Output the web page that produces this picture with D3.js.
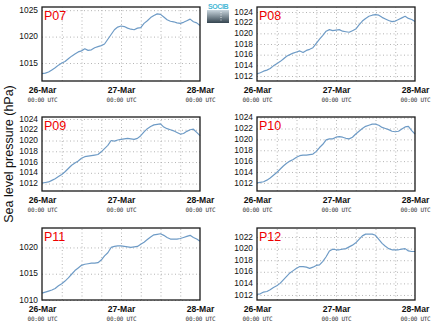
<!DOCTYPE html>
<html><head><meta charset="utf-8">
<script src="https://cdn.jsdelivr.net/npm/d3@7"></script>
<style>
body{margin:0;background:#fff}
svg{display:block;font-family:"Liberation Sans",Arial,sans-serif}
</style>
</head><body>
<svg id="chart" width="434" height="327"></svg>
<script>
// Hourly sea level pressure (hPa), 26-Mar 00:00 UTC to 28-Mar 00:00 UTC
const hours = d3.range(0, 49);
const stations = ["P07", "P08", "P09", "P10", "P11", "P12"];

const p07 = [1013.0,1013.1,1013.3,1013.7,1014.1,1014.6,1015.0,1015.3,1015.8,1016.3,1016.7,1017.1,1017.3,1017.7,1017.4,1017.5,1017.9,1018.1,1018.3,1018.6,1019.5,1020.4,1021.3,1021.8,1022.0,1021.9,1021.6,1021.4,1021.3,1021.6,1021.7,1022.5,1023.0,1023.6,1024.0,1024.3,1024.2,1023.7,1023.2,1022.9,1022.8,1022.6,1022.5,1022.7,1023.0,1023.3,1022.8,1022.6,1022.1];
const p08 = [1012.4,1012.6,1012.9,1013.1,1013.4,1013.9,1014.3,1014.7,1015.2,1015.7,1016.0,1016.3,1016.5,1016.7,1016.4,1016.8,1017.0,1017.3,1018.1,1018.9,1019.6,1020.4,1020.7,1020.5,1020.6,1020.7,1020.4,1020.3,1020.2,1020.5,1020.8,1021.6,1022.3,1022.8,1023.2,1023.4,1023.5,1023.4,1023.0,1022.7,1022.4,1022.2,1022.3,1022.6,1022.9,1023.2,1022.8,1022.6,1022.2];
const p09 = [1012.1,1012.2,1012.3,1012.6,1012.9,1013.3,1013.7,1014.2,1014.8,1015.4,1015.8,1016.2,1016.7,1017.0,1017.1,1017.2,1017.3,1017.4,1017.9,1018.5,1019.1,1020.0,1019.9,1020.1,1020.2,1020.3,1020.4,1020.3,1020.2,1020.4,1020.9,1021.6,1022.2,1022.6,1022.9,1023.0,1023.1,1022.5,1022.2,1022.0,1021.8,1021.5,1021.2,1021.3,1021.7,1022.0,1022.1,1021.5,1020.9];
const p10 = [1012.0,1012.1,1012.2,1012.5,1012.9,1013.4,1013.9,1014.5,1015.1,1015.6,1016.0,1016.3,1016.7,1017.0,1017.1,1017.1,1017.2,1017.3,1017.8,1018.5,1019.1,1019.9,1020.1,1020.1,1020.4,1020.5,1020.4,1020.2,1020.1,1020.4,1021.0,1021.5,1022.0,1022.4,1022.6,1022.8,1022.8,1022.6,1022.2,1022.0,1021.8,1021.5,1021.4,1021.5,1021.9,1022.3,1022.4,1021.6,1021.0];
const p11 = [1011.3,1011.5,1011.7,1011.9,1012.2,1012.7,1013.1,1013.6,1014.2,1014.9,1015.6,1016.1,1016.6,1016.8,1016.9,1017.0,1017.0,1017.1,1017.6,1018.4,1019.0,1020.0,1020.2,1020.3,1020.3,1020.2,1020.1,1020.0,1020.1,1020.2,1020.6,1021.0,1021.5,1022.0,1022.4,1022.5,1022.6,1022.3,1021.9,1021.6,1021.6,1021.6,1021.7,1021.9,1022.1,1022.3,1021.9,1021.6,1021.2];
const p12 = [1012.1,1012.2,1012.5,1012.6,1012.9,1013.3,1013.6,1014.0,1014.6,1015.2,1015.8,1016.2,1016.6,1016.9,1016.9,1016.8,1016.6,1016.8,1017.1,1017.2,1017.8,1018.6,1019.6,1019.9,1019.8,1019.8,1019.9,1020.0,1020.3,1020.6,1021.0,1021.6,1022.2,1022.5,1022.5,1022.5,1022.3,1021.6,1020.9,1020.4,1020.0,1019.8,1019.8,1019.8,1019.9,1020.0,1019.6,1019.5,1019.5];

const dayLabels = ["26-Mar", "27-Mar", "28-Mar"];
const dayHours = [0, 24, 48];
const timeLabel = "00:00 UTC";
const gridHours = [6, 12, 18, 24, 30, 36, 42];

const ticksFive = [1015, 1020, 1025];
const ticksTwo = [1012, 1014, 1016, 1018, 1020, 1022, 1024];
const ticksP11 = [1010, 1015, 1020];
const ticksP12 = [1012, 1014, 1016, 1018, 1020, 1022];

const yLabel = "Sea level pressure (hPa)";

const series = [p07, p08, p09, p10, p11, p12];
const yTicks = [ticksFive, ticksTwo, ticksTwo, ticksTwo, ticksP11, ticksP12];
const yDomains = [[1011.6, 1025.6], [1011.06, 1024.94], [1010.62, 1024.37],
                  [1010.5, 1024.12], [1010.0, 1023.7], [1011.13, 1023.56]];

// panel frames: two columns, three rows
const colX = [42, 257];
const rows = [{top: 7, h: 74}, {top: 117, h: 74}, {top: 228, h: 72}];
const W = 158;

const svg = d3.select("#chart");

stations.forEach((name, i) => {
  const col = i % 2, row = Math.floor(i / 2);
  const left = colX[col], top = rows[row].top, H = rows[row].h;
  const x = d3.scaleLinear().domain([0, 48]).range([0, W]);
  const y = d3.scaleLinear().domain(yDomains[i]).range([H, 0]);

  const g = svg.append("g").attr("transform", `translate(${left},${top})`);

  // dotted grid
  g.append("g").attr("class", "hgrid")
    .call(d3.axisLeft(y).tickValues(yTicks[i]).tickSize(-W).tickFormat(""))
    .call(s => s.select(".domain").remove())
    .call(s => s.selectAll("line").attr("stroke", "#b4b4b4").attr("stroke-dasharray", "1,2.5"));
  g.append("g").attr("class", "vgrid").attr("transform", `translate(0,${H})`)
    .call(d3.axisBottom(x).tickValues(gridHours).tickSize(-H).tickFormat(""))
    .call(s => s.select(".domain").remove())
    .call(s => s.selectAll("line").attr("stroke", "#b4b4b4").attr("stroke-dasharray", "1,2.5"));

  // y tick labels
  g.append("g").attr("class", "yaxis")
    .call(d3.axisLeft(y).tickValues(yTicks[i]).tickSize(0).tickPadding(4).tickFormat(d3.format("d")))
    .call(s => s.select(".domain").remove())
    .call(s => s.selectAll("text").attr("font-size", 8.4).attr("fill", "#111").attr("dy", "0.26em")
      .attr("font-family", "'Liberation Sans',Arial,sans-serif"));

  // x tick labels (date + time)
  const xa = g.append("g").attr("class", "xaxis").attr("transform", `translate(0,${H})`)
    .call(d3.axisBottom(x).tickValues(dayHours).tickSize(0).tickPadding(6)
      .tickFormat((d, k) => dayLabels[k]))
    .call(s => s.select(".domain").remove());
  xa.selectAll("text").attr("font-size", 8.6).attr("fill", "#111")
    .attr("font-family", "'Liberation Sans',Arial,sans-serif")
    .attr("font-weight", "bold").attr("stroke", "none");
  xa.selectAll(".tick").append("text")
    .attr("y", 21).attr("text-anchor", "middle")
    .attr("font-size", 6).attr("fill", "#333")
    .attr("font-family", "'DejaVu Sans Mono',monospace")
    .attr("letter-spacing", -0.3)
    .text(timeLabel);

  // pressure line
  const line = d3.line().x((d, k) => x(hours[k])).y(d => y(d));
  g.append("path").datum(series[i])
    .attr("fill", "none").attr("stroke", "#6e9bc6").attr("stroke-width", 1.2)
    .attr("stroke-linejoin", "round").attr("d", line);

  // frame
  g.append("rect").attr("width", W).attr("height", H)
    .attr("fill", "none").attr("stroke", "#1a1a1a").attr("stroke-width", 1.3);

  // station label
  g.append("text").attr("x", 2).attr("y", 13)
    .attr("font-size", 12.5).attr("fill", "#ee0000").text(name);
});

// shared y-axis title
svg.append("text")
  .attr("transform", "translate(13,154) rotate(-90)")
  .attr("text-anchor", "middle").attr("font-size", 12.5).attr("fill", "#111")
  .text(yLabel);

// SOCIB logo
const defs = svg.append("defs");
const grad = defs.append("linearGradient").attr("id", "logoGrad")
  .attr("x1", 0).attr("y1", 0).attr("x2", 0).attr("y2", 1);
grad.append("stop").attr("offset", "0%").attr("stop-color", "#c9d6de");
grad.append("stop").attr("offset", "100%").attr("stop-color", "#34444f");
const logo = svg.append("g").attr("transform", "translate(207,3)");
logo.append("text").attr("x", 11).attr("y", 6).attr("text-anchor", "middle")
  .attr("font-size", 7).attr("font-weight", "bold").attr("fill", "#49b8d6")
  .attr("letter-spacing", -0.4).text("SOCIB");
logo.append("rect").attr("x", 0).attr("y", 7).attr("width", 22).attr("height", 13)
  .attr("fill", "url(#logoGrad)");
logo.append("line").attr("x1", 14).attr("x2", 14).attr("y1", 9).attr("y2", 19)
  .attr("stroke", "#fff").attr("stroke-width", 0.8).attr("stroke-dasharray", "1,1.5");
</script>
</body></html>
